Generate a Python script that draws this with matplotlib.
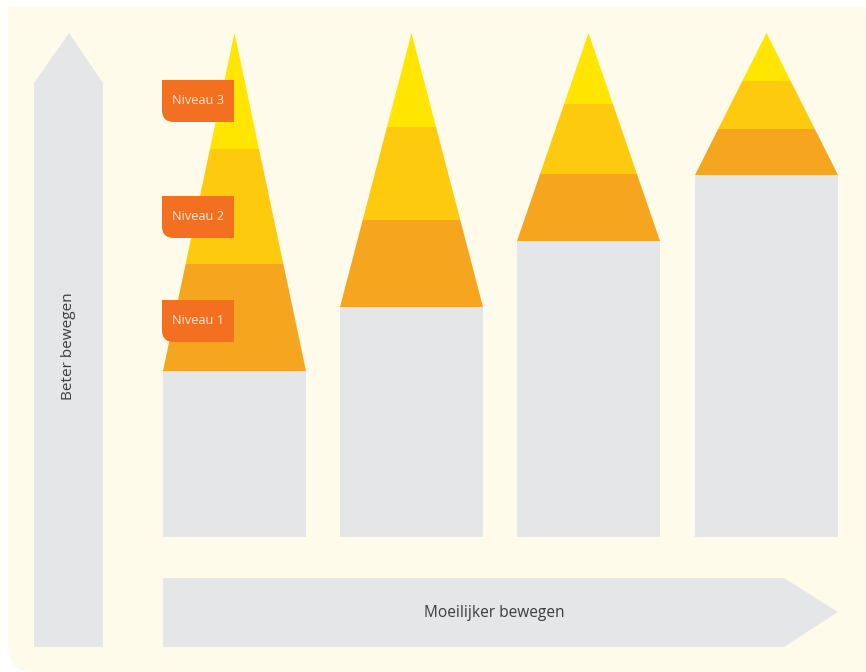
import matplotlib.pyplot as plt
from matplotlib.patches import Polygon, Rectangle, PathPatch
from matplotlib.path import Path

# pillars (image pixel units, y grows downward)
pillar_left = [163, 340, 517, 695]
pillar_width = 143
base_y = 537
# top of gray block, top of niveau 1, top of niveau 2, apex
gray_top = [371, 307, 241, 175]
niveau1_top = [264, 220, 174, 129]
niveau2_top = [149, 127, 104, 81]
apex_y = 33

layer_colors = ["#F6A51F", "#FECA0E", "#FFE500"]
labels = ["Niveau 1", "Niveau 2", "Niveau 3"]
label_y = [300, 196, 80]

gray = "#E5E6E8"
cream = "#FEFBEA"
orange = "#F37021"

fig = plt.figure(figsize=(8.66, 6.72), dpi=100)
ax = fig.add_axes([0, 0, 1, 1])
ax.set_xlim(0, 866)
ax.set_ylim(672, 0)
ax.axis("off")

# background panel with rounded bottom-left corner
r = 26
verts = [(8, 7), (866, 7), (866, 672), (8 + r, 672), (8, 672), (8, 672 - r), (8, 7)]
codes = [Path.MOVETO, Path.LINETO, Path.LINETO, Path.LINETO, Path.CURVE3, Path.CURVE3, Path.CLOSEPOLY]
ax.add_patch(PathPatch(Path(verts, codes), facecolor=cream, edgecolor="none"))

# vertical arrow
ax.add_patch(Polygon([(34, 647), (34, 83), (69, 33), (103, 83), (103, 647)],
                     closed=True, facecolor=gray, edgecolor="none"))
ax.text(69, 346, "Beter bewegen", rotation=90, ha="center", va="center",
        fontsize=11, color="#3C3C3C", family="Open Sans")

# horizontal arrow
ax.add_patch(Polygon([(163, 578), (784, 578), (838, 612), (784, 647), (163, 647)],
                     closed=True, facecolor=gray, edgecolor="none"))
ax.text(494, 613, "Moeilijker bewegen", ha="center", va="center",
        fontsize=11.2, color="#3C3C3C", family="Open Sans")

for i, x0 in enumerate(pillar_left):
    ax.add_patch(Rectangle((x0, gray_top[i]), pillar_width, base_y - gray_top[i],
                           facecolor=gray, edgecolor="none"))
    xc = x0 + pillar_width / 2
    h = gray_top[i] - apex_y

    def xs(y):
        frac = (y - apex_y) / h
        return xc - frac * pillar_width / 2, xc + frac * pillar_width / 2

    bounds = [gray_top[i], niveau1_top[i], niveau2_top[i], apex_y]
    for k in range(3):
        yb, yt = bounds[k], bounds[k + 1]
        lb, rb = xs(yb)
        lt, rt = xs(yt)
        ax.add_patch(Polygon([(lb, yb), (rb, yb), (rt, yt), (lt, yt)], closed=True,
                             facecolor=layer_colors[k], edgecolor="none"))

# level labels with rounded bottom-left corner
lw, lh, lr = 72, 42, 12
for text, y in zip(labels, label_y):
    x = 162
    verts = [(x, y), (x + lw, y), (x + lw, y + lh), (x + lr, y + lh),
             (x, y + lh), (x, y + lh - lr), (x, y)]
    codes = [Path.MOVETO, Path.LINETO, Path.LINETO, Path.LINETO,
             Path.CURVE3, Path.CURVE3, Path.CLOSEPOLY]
    ax.add_patch(PathPatch(Path(verts, codes), facecolor=orange, edgecolor="none"))
    ax.text(x + lw / 2, y + lh / 2, text, ha="center", va="center",
            fontsize=9.2, color="#FDE6D6", family="Open Sans")

fig.savefig("out.png", dpi=100)
